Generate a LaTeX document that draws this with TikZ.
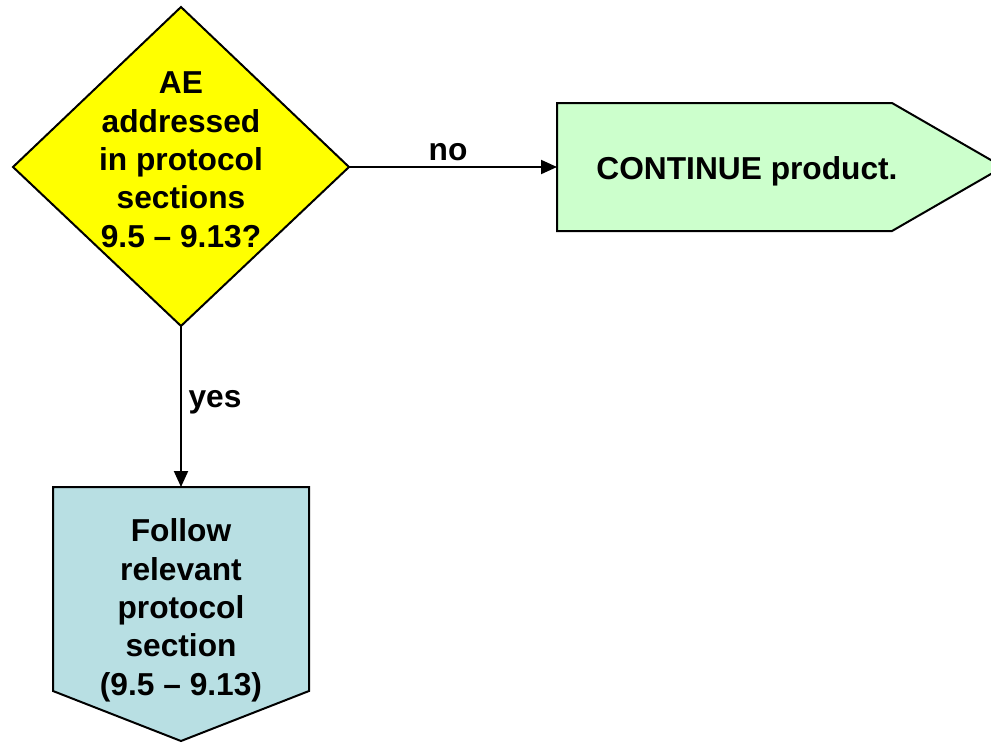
\documentclass[tikz,border=0pt]{standalone}
\usepackage{fontspec}
\setmainfont{Liberation Sans}
\usetikzlibrary{arrows.meta}
\definecolor{decyellow}{RGB}{255,255,0}
\definecolor{contgreen}{RGB}{204,255,204}
\definecolor{followblue}{RGB}{184,223,227}
\tikzset{
  shapeline/.style={draw=black, line width=2pt, line join=miter},
  flowtext/.style={font=\fontsize{31.7}{38.3}\selectfont\bfseries, align=center, inner sep=0pt, anchor=base},
  edgelabel/.style={font=\fontsize{31.7}{38.3}\selectfont\bfseries, inner sep=0pt, anchor=base},
  flowarrow/.style={line width=2pt, -{Triangle[length=16pt,width=14pt]}}
}
\begin{document}
\begin{tikzpicture}[x=1pt, y=-1pt]
  \clip (0,0) rectangle (991,742);
  \fill[white] (0,0) rectangle (991,742);

  % decision diamond
  \coordinate (decT) at (181,7);
  \coordinate (decL) at (13,167);
  \coordinate (decR) at (349,167);
  \coordinate (decB) at (181,326);
  \filldraw[shapeline, fill=decyellow] (decT) -- (decR) -- (decB) -- (decL) -- cycle;
  \node[flowtext] (dectext) at (181,247) {AE\\addressed\\in protocol\\sections\\9.5 – 9.13?};

  % continue pentagon (pointing right)
  \coordinate (contL) at (557,167);
  \filldraw[shapeline, fill=contgreen] (557,103) -- (892,103) -- (1003,167) -- (892,231) -- (557,231) -- cycle;
  \node[flowtext] (conttext) at (747,179) {CONTINUE product.};

  % follow pentagon (pointing down)
  \coordinate (followT) at (181,487);
  \filldraw[shapeline, fill=followblue] (53,487) -- (309,487) -- (309,691) -- (181,741) -- (53,691) -- cycle;
  \node[flowtext] (followtext) at (181,695) {Follow\\relevant\\protocol\\section\\(9.5 – 9.13)};

  % connectors
  \draw[flowarrow] (decR) -- (contL);
  \node[edgelabel] (nolabel) at (448,160) {no};
  \draw[flowarrow] (decB) -- (followT);
  \node[edgelabel] (yeslabel) at (215,407) {yes};
\end{tikzpicture}
\end{document}
